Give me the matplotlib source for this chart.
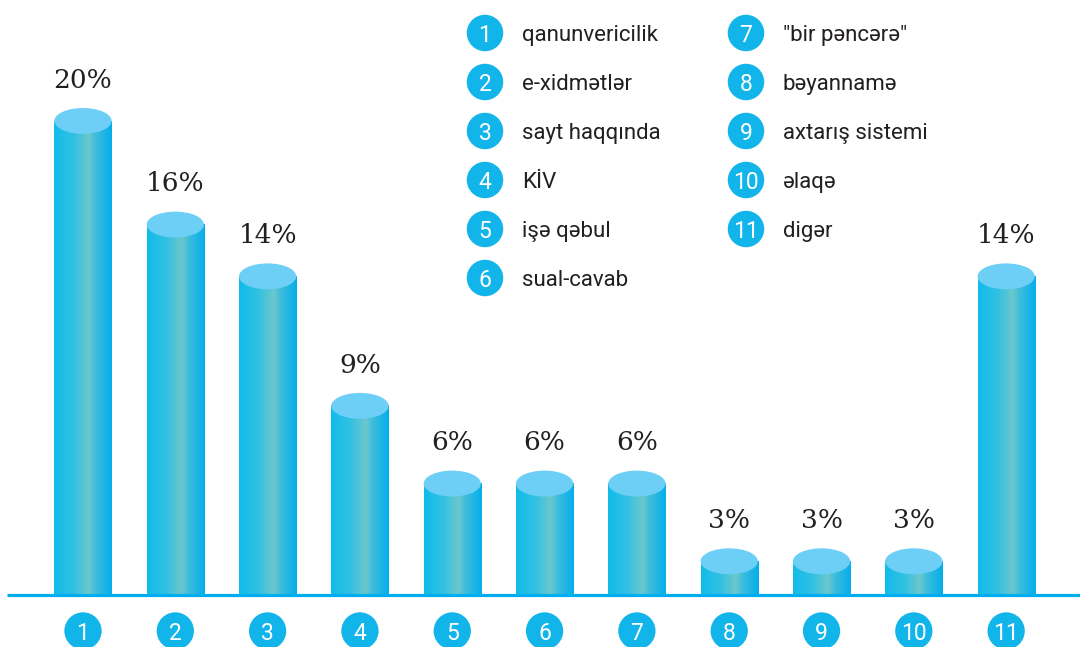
import numpy as np
import matplotlib
matplotlib.use("Agg")
import matplotlib.pyplot as plt
from matplotlib import colors
from matplotlib.patches import Ellipse

# data
categories = ["1", "2", "3", "4", "5", "6", "7", "8", "9", "10", "11"]
values = [20, 16, 14, 9, 6, 6, 6, 3, 3, 3, 14]
labels = ["qanunvericilik", "e-xidmətlər", "sayt haqqında", "KİV", "işə qəbul",
          "sual-cavab", '"bir pəncərə"', "bəyannamə", "axtarış sistemi", "əlaqə", "digər"]

CYAN = "#12B5EA"
TOP = "#6DCFF6"
INK = "#231F20"
base = 1.7          # where the baseline sits on the value axis
bar_w = 0.62
cap_h = 1.0

body = colors.LinearSegmentedColormap.from_list(
    "body", [(0.0, "#10BCEA"), (0.35, "#34C1E2"), (0.6, "#6CC8CB"),
             (0.72, "#3DBDDC"), (1.0, "#04AEEC")])
grad = np.linspace(0, 1, 256).reshape(1, -1)

fig = plt.figure(figsize=(10.8, 6.47), dpi=100)
ax = fig.add_axes([0, 0, 1, 1])
ax.set_axis_off()

x = np.arange(1, len(values) + 1)
for xi, v in zip(x, values):
    ax.imshow(grad, cmap=body, aspect="auto", interpolation="bilinear",
              extent=[xi - bar_w / 2, xi + bar_w / 2, base, v], zorder=2)
    ax.add_patch(Ellipse((xi, v), bar_w, cap_h, facecolor=TOP, edgecolor="none", zorder=3))
    ax.text(xi, v + 1.28, f"{v}%", ha="center", va="baseline", fontsize=19,
            family="DejaVu Serif", color=INK, zorder=4)

ax.plot([0.177, 11.8], [base, base], color="#00AEEF", lw=2.3, zorder=4,
        solid_capstyle="butt")

# numbered circles under bars
ax.scatter(x, np.full(len(x), 0.31), s=720, color=CYAN, edgecolors="none", zorder=4)
for xi, c in zip(x, categories):
    ax.text(xi, 0.31, c, ha="center", va="center_baseline", fontsize=16.5,
            family="Roboto", color="white", zorder=5)

# legend
rows = 6
for i, (c, lab) in enumerate(zip(categories, labels)):
    col, row = divmod(i, rows)
    cx = (485 if col == 0 else 746) / 1080
    cy = 1 - (33 + 49 * row) / 647
    ax.scatter([cx], [cy], s=690, color=CYAN, edgecolors="none",
               transform=ax.transAxes, zorder=4, clip_on=False)
    ax.text(cx, cy, c, ha="center", va="center_baseline", fontsize=16.5,
            family="Roboto", color="white", transform=ax.transAxes, zorder=5)
    ax.text(cx + 37 / 1080, cy, lab, ha="left", va="center_baseline", fontsize=16,
            family="Roboto", color=INK, transform=ax.transAxes)

ax.set_xlim(0.101, 11.8)
ax.set_ylim(-0.31, 24.67)

fig.savefig("out.png", dpi=100, facecolor="white")
